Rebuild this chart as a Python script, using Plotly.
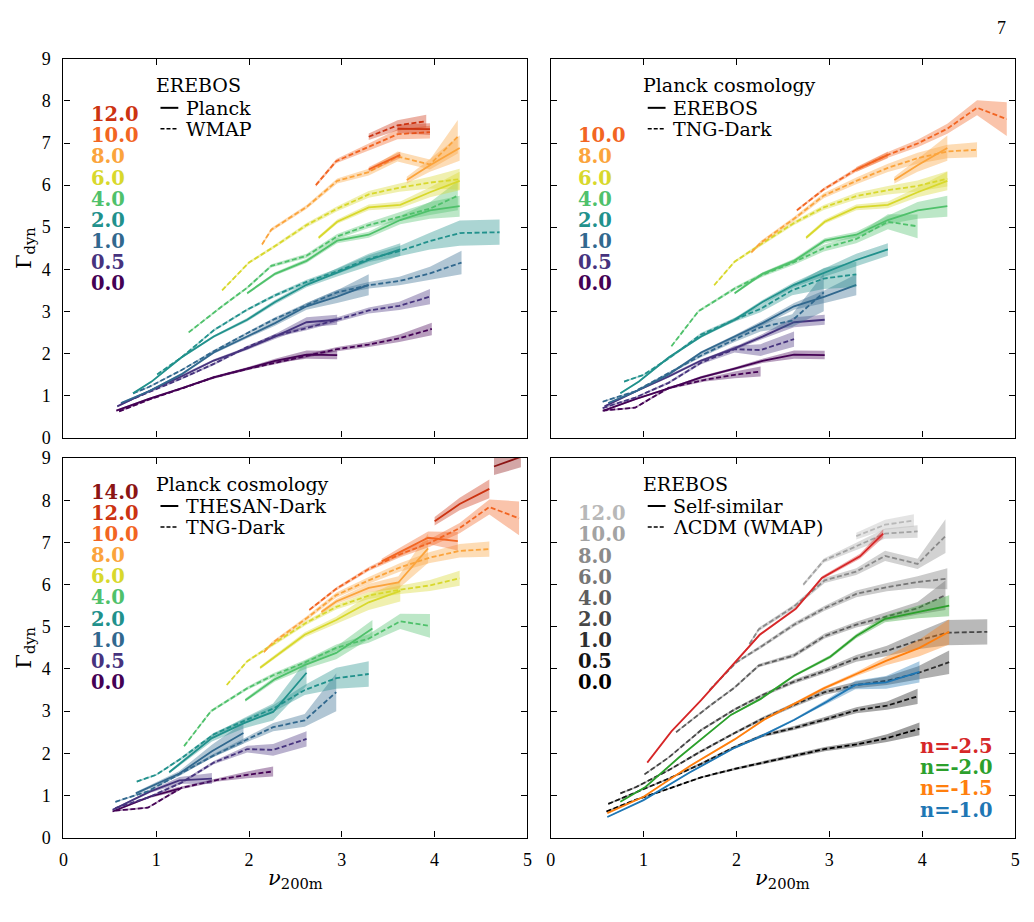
import plotly.graph_objects as go

W, H = 1034, 922

# ---------------- data (nu_200m, Gamma_dyn, half-width of band) ----------------
Z_COLORS = {"0.0": "#440154", "0.5": "#46337e", "1.0": "#31688e", "2.0": "#21918c",
            "4.0": "#4fc16b", "6.0": "#d8d82c", "8.0": "#fba43c", "10.0": "#f26522",
            "12.0": "#cc3311", "14.0": "#8b1414"}
Z_GRAYS = {"0.0": "#000000", "0.5": "#141414", "1.0": "#2e2e2e", "2.0": "#474747",
           "4.0": "#5e5e5e", "6.0": "#767676", "8.0": "#8a8a8a", "10.0": "#a3a3a3",
           "12.0": "#b8b8b8"}

# EREBOS, Planck cosmology (solid in top panels)
erebos_planck = {
    "0.0": ([0.57, 0.92, 1.27, 1.62, 1.98, 2.28, 2.62, 2.95],
            [0.64, 0.92, 1.17, 1.43, 1.64, 1.82, 1.97, 1.96],
            [0.02, 0.02, 0.02, 0.03, 0.03, 0.05, 0.10, 0.10]),
    "0.5": ([0.58, 0.92, 1.27, 1.62, 1.98, 2.28, 2.62, 2.95],
            [0.74, 1.10, 1.45, 1.83, 2.12, 2.40, 2.74, 2.80],
            [0.02, 0.02, 0.03, 0.03, 0.04, 0.06, 0.12, 0.12]),
    "1.0": ([0.62, 0.92, 1.27, 1.62, 1.98, 2.28, 2.62, 2.95, 3.29],
            [0.82, 1.10, 1.50, 2.02, 2.40, 2.72, 3.12, 3.35, 3.63],
            [0.02, 0.02, 0.03, 0.03, 0.04, 0.06, 0.08, 0.15, 0.25]),
    "2.0": ([0.75, 0.95, 1.27, 1.62, 1.98, 2.28, 2.62, 2.95, 3.29, 3.63],
            [1.05, 1.33, 1.90, 2.40, 2.80, 3.22, 3.63, 3.93, 4.22, 4.47],
            [0.02, 0.02, 0.03, 0.03, 0.04, 0.05, 0.06, 0.10, 0.15, 0.15]),
    "4.0": ([1.98, 2.28, 2.62, 2.95, 3.29, 3.63, 3.95, 4.27],
            [3.43, 3.89, 4.20, 4.68, 4.82, 5.17, 5.40, 5.50],
            [0.03, 0.04, 0.05, 0.06, 0.07, 0.10, 0.20, 0.25]),
    "6.0": ([2.75, 2.95, 3.29, 3.63, 3.95, 4.27],
            [4.75, 5.13, 5.47, 5.53, 5.83, 6.10],
            [0.04, 0.05, 0.07, 0.08, 0.12, 0.22]),
    "8.0": ([3.70, 3.95, 4.27],
            [6.12, 6.47, 6.88],
            [0.08, 0.15, 0.30]),
    "10.0": ([3.29, 3.63],
             [6.37, 6.72],
             [0.06, 0.08]),
    "12.0": ([3.60, 3.95],
             [7.34, 7.33],
             [0.10, 0.14]),
}

# EREBOS, WMAP cosmology (dashed in top-left and bottom-right)
erebos_wmap = {
    "0.0": ([0.60, 0.92, 1.27, 1.62, 1.98, 2.28, 2.62, 2.95, 3.29, 3.62, 3.97],
            [0.62, 0.90, 1.16, 1.43, 1.63, 1.78, 1.94, 2.10, 2.21, 2.36, 2.58],
            [0.02, 0.02, 0.02, 0.02, 0.03, 0.03, 0.04, 0.05, 0.06, 0.09, 0.15]),
    "0.5": ([0.62, 0.92, 1.27, 1.62, 1.98, 2.28, 2.62, 2.95, 3.29, 3.62, 3.95],
            [0.80, 1.08, 1.40, 1.75, 2.15, 2.42, 2.60, 2.80, 3.02, 3.13, 3.35],
            [0.02, 0.02, 0.02, 0.03, 0.03, 0.04, 0.05, 0.06, 0.07, 0.10, 0.18]),
    "1.0": ([0.75, 0.92, 1.27, 1.62, 1.98, 2.28, 2.62, 2.95, 3.29, 3.62, 3.95, 4.29],
            [1.05, 1.20, 1.60, 2.05, 2.48, 2.82, 3.15, 3.45, 3.62, 3.72, 3.90, 4.16],
            [0.02, 0.02, 0.02, 0.03, 0.03, 0.04, 0.05, 0.06, 0.08, 0.10, 0.16, 0.28]),
    "2.0": ([1.01, 1.27, 1.62, 1.98, 2.28, 2.62, 2.95, 3.29, 3.62, 3.95, 4.27, 4.70],
            [1.50, 1.90, 2.55, 3.04, 3.38, 3.70, 3.95, 4.25, 4.43, 4.67, 4.86, 4.88],
            [0.02, 0.02, 0.03, 0.03, 0.04, 0.05, 0.06, 0.08, 0.12, 0.20, 0.30, 0.30]),
    "4.0": ([1.35, 1.71, 1.98, 2.24, 2.62, 2.95, 3.29, 3.62, 3.95, 4.25],
            [2.50, 3.12, 3.56, 4.08, 4.32, 4.78, 5.05, 5.25, 5.44, 5.75],
            [0.02, 0.03, 0.03, 0.04, 0.05, 0.06, 0.07, 0.10, 0.15, 0.35]),
    "6.0": ([1.71, 2.00, 2.28, 2.62, 2.95, 3.29, 3.62, 3.95, 4.27],
            [3.50, 4.16, 4.55, 5.05, 5.44, 5.78, 5.94, 6.06, 6.14],
            [0.02, 0.03, 0.04, 0.05, 0.06, 0.08, 0.10, 0.14, 0.25]),
    "8.0": ([2.14, 2.24, 2.62, 2.95, 3.29, 3.60, 3.95, 4.25],
            [4.59, 4.94, 5.48, 6.10, 6.31, 6.68, 6.49, 7.15],
            [0.03, 0.04, 0.05, 0.06, 0.08, 0.12, 0.12, 0.40]),
    "10.0": ([2.72, 2.94, 3.29, 3.60, 3.95],
             [6.00, 6.57, 6.91, 7.21, 7.26],
             [0.04, 0.05, 0.08, 0.12, 0.15]),
    "12.0": ([3.29, 3.60, 3.91],
             [7.15, 7.42, 7.52],
             [0.08, 0.12, 0.15]),
}

# TNG-Dark, Planck cosmology (dashed in top-right and bottom-left)
tng_dark = {
    "0.0": ([0.56, 0.91, 1.27, 1.66, 1.98, 2.26],
            [0.64, 0.71, 1.18, 1.37, 1.49, 1.57],
            [0.02, 0.02, 0.03, 0.04, 0.08, 0.12]),
    "0.5": ([0.56, 0.91, 1.27, 1.62, 1.98, 2.26, 2.62],
            [0.70, 0.95, 1.30, 1.78, 2.10, 2.08, 2.34],
            [0.02, 0.02, 0.03, 0.04, 0.08, 0.14, 0.18]),
    "1.0": ([0.56, 0.91, 1.27, 1.62, 1.98, 2.26, 2.60, 2.94],
            [0.85, 1.10, 1.53, 1.95, 2.33, 2.62, 2.78, 3.45],
            [0.02, 0.02, 0.03, 0.04, 0.06, 0.10, 0.15, 0.45]),
    "2.0": ([0.79, 1.00, 1.27, 1.62, 1.98, 2.26, 2.60, 2.94, 3.29],
            [1.33, 1.49, 1.88, 2.45, 2.80, 3.06, 3.50, 3.78, 3.88],
            [0.02, 0.02, 0.03, 0.04, 0.05, 0.08, 0.12, 0.25, 0.30]),
    "4.0": ([1.30, 1.59, 1.98, 2.26, 2.62, 2.94, 3.29, 3.63, 3.95],
            [2.17, 3.00, 3.54, 3.85, 4.17, 4.50, 4.72, 5.13, 5.02],
            [0.02, 0.03, 0.04, 0.05, 0.06, 0.08, 0.10, 0.18, 0.28]),
    "6.0": ([1.76, 1.98, 2.26, 2.62, 2.94, 3.29, 3.63, 3.95, 4.27],
            [3.62, 4.18, 4.59, 5.10, 5.47, 5.74, 5.88, 5.98, 6.15],
            [0.02, 0.03, 0.04, 0.05, 0.06, 0.08, 0.10, 0.13, 0.18]),
    "8.0": ([2.16, 2.26, 2.62, 2.94, 3.29, 3.63, 3.95, 4.27, 4.59],
            [4.40, 4.63, 5.20, 5.75, 6.10, 6.41, 6.64, 6.80, 6.84],
            [0.03, 0.04, 0.05, 0.06, 0.08, 0.10, 0.13, 0.16, 0.18]),
    "10.0": ([2.65, 2.94, 3.29, 3.63, 3.95, 4.27, 4.59, 4.91],
             [5.40, 5.90, 6.37, 6.72, 6.99, 7.34, 7.84, 7.57],
             [0.03, 0.04, 0.05, 0.07, 0.09, 0.12, 0.18, 0.40]),
}

# THESAN-Dark, Planck cosmology (solid in bottom-left)
thesan_dark = {
    "0.0": ([0.53, 0.93, 1.25],
            [0.62, 0.97, 1.16],
            [0.02, 0.03, 0.05]),
    "0.5": ([0.53, 0.93, 1.25, 1.60],
            [0.66, 1.09, 1.36, 1.40],
            [0.02, 0.03, 0.08, 0.13]),
    "1.0": ([0.78, 1.25, 1.60, 1.94],
            [1.05, 1.52, 2.05, 2.48],
            [0.03, 0.06, 0.15, 0.25]),
    "2.0": ([1.14, 1.60, 1.94, 2.26, 2.62],
            [1.55, 2.36, 2.71, 2.98, 3.91],
            [0.03, 0.08, 0.12, 0.20, 0.30]),
    "4.0": ([1.96, 2.28, 2.62, 2.94, 3.33],
            [3.26, 3.76, 4.11, 4.38, 4.96],
            [0.04, 0.06, 0.10, 0.15, 0.20]),
    "6.0": ([2.12, 2.60, 2.94, 3.29, 3.63],
            [4.03, 4.81, 5.16, 5.58, 5.85],
            [0.04, 0.06, 0.08, 0.18, 0.25]),
    "8.0": ([2.78, 2.94, 3.29, 3.61, 3.93],
            [5.35, 5.60, 5.92, 6.05, 6.86],
            [0.05, 0.06, 0.10, 0.15, 0.35]),
    "10.0": ([3.43, 3.63, 3.93, 4.25],
             [6.55, 6.78, 7.11, 7.03],
             [0.06, 0.10, 0.15, 0.22]),
    "12.0": ([4.00, 4.27, 4.59],
             [7.50, 7.91, 8.27],
             [0.10, 0.15, 0.22]),
    "14.0": ([4.64, 4.93],
             [8.80, 9.03],
             [0.20, 0.25]),
}

# EREBOS self-similar runs (solid in bottom-right)
N_LABELS = ["n=-2.5", "n=-2.0", "n=-1.5", "n=-1.0"]
N_COLORS = {"n=-2.5": "#d62728", "n=-2.0": "#2ca02c", "n=-1.5": "#ff7f0e", "n=-1.0": "#1f77b4"}
self_similar = {
    "n=-2.5": ([1.04, 1.30, 1.62, 1.98, 2.25, 2.64, 2.92, 3.33, 3.58],
               [1.78, 2.52, 3.26, 4.15, 4.81, 5.43, 6.16, 6.67, 7.21],
               [0.01, 0.01, 0.02, 0.02, 0.03, 0.03, 0.04, 0.06, 0.10]),
    "n=-2.0": ([0.75, 1.02, 1.38, 1.94, 2.26, 2.62, 3.01, 3.29, 3.60, 3.95, 4.29],
               [0.85, 1.20, 1.90, 2.91, 3.29, 3.84, 4.29, 4.78, 5.19, 5.35, 5.50],
               [0.01, 0.01, 0.02, 0.02, 0.03, 0.03, 0.04, 0.05, 0.08, 0.15, 0.25]),
    "n=-1.5": ([0.61, 1.00, 1.50, 1.98, 2.30, 2.62, 2.94, 3.29, 3.61, 3.97, 4.29],
               [0.58, 0.97, 1.70, 2.33, 2.80, 3.18, 3.54, 3.88, 4.19, 4.50, 4.88],
               [0.01, 0.01, 0.02, 0.02, 0.03, 0.03, 0.04, 0.05, 0.10, 0.20, 0.30]),
    "n=-1.0": ([0.61, 1.00, 1.50, 1.98, 2.26, 2.62, 2.97, 3.28, 3.61, 3.97],
               [0.49, 0.89, 1.55, 2.13, 2.40, 2.79, 3.22, 3.62, 3.68, 3.93],
               [0.01, 0.01, 0.02, 0.02, 0.03, 0.03, 0.05, 0.10, 0.15, 0.25]),
}

X_TICKS = [0, 1, 2, 3, 4, 5]
Y_TICKS = [0, 1, 2, 3, 4, 5, 6, 7, 8, 9]

tl_labels = ["12.0", "10.0", "8.0", "6.0", "4.0", "2.0", "1.0", "0.5", "0.0"]
tr_labels = ["10.0", "8.0", "6.0", "4.0", "2.0", "1.0", "0.5", "0.0"]
bl_labels = ["14.0", "12.0", "10.0", "8.0", "6.0", "4.0", "2.0", "1.0", "0.5", "0.0"]
br_labels = ["12.0", "10.0", "8.0", "6.0", "4.0", "2.0", "1.0", "0.5", "0.0"]

# ---------------- layout geometry (pixels) ----------------
COLS = [(59, 527.5), (551, 1020)]
ROWS = [(50, 437), (458, 846)]


def px(x):
    return x / W


def py(y):
    return 1 - y / H


def hex_rgba(h, a):
    h = h.lstrip("#")
    r, g, b = int(h[0:2], 16), int(h[2:4], 16), int(h[4:6], 16)
    return f"rgba({r},{g},{b},{a})"


fig = go.Figure()

panel_axes = {}
k = 0
for ri, (yt, yb) in enumerate(ROWS):
    for ci, (xl, xr) in enumerate(COLS):
        k += 1
        xa = "xaxis" if k == 1 else f"xaxis{k}"
        ya = "yaxis" if k == 1 else f"yaxis{k}"
        xref = "x" if k == 1 else f"x{k}"
        yref = "y" if k == 1 else f"y{k}"
        panel_axes[(ri, ci)] = (xref, yref)
        common = dict(ticks="inside", ticklen=6, tickwidth=1, tickcolor="black",
                      showline=True, linecolor="black", linewidth=1.3, mirror="ticks",
                      showgrid=False, zeroline=False,
                      tickfont=dict(family="Liberation Serif", size=18, color="black"))
        fig.update_layout({
            xa: dict(domain=[px(xl), px(xr)], range=[0, 5], tickvals=X_TICKS,
                     showticklabels=(ri == 1), anchor=yref, ticklabelstandoff=6, **common),
            ya: dict(domain=[py(yb), py(yt)], range=[0, 9], tickvals=Y_TICKS,
                     showticklabels=(ci == 0), anchor=xref, ticklabelstandoff=8, **common),
        })

DASH = "5px,2.5px"


def add_series(panel, x, y, e, color, dash):
    xref, yref = panel_axes[panel]
    bx = list(x) + list(x)[::-1]
    by = [a + b for a, b in zip(y, e)] + [a - b for a, b in zip(y, e)][::-1]
    fig.add_trace(go.Scatter(x=bx, y=by, fill="toself", fillcolor=hex_rgba(color, 0.38),
                             line=dict(width=0), mode="lines", hoverinfo="skip",
                             showlegend=False, xaxis=xref, yaxis=yref))
    fig.add_trace(go.Scatter(x=x, y=y, mode="lines",
                             line=dict(color=color, width=1.8, dash=dash),
                             showlegend=False, xaxis=xref, yaxis=yref))


# top-left: EREBOS Planck (solid) vs WMAP (dashed)
for z in tl_labels[::-1]:
    if z in erebos_wmap:
        add_series((0, 0), *erebos_wmap[z], Z_COLORS[z], DASH)
    if z in erebos_planck:
        add_series((0, 0), *erebos_planck[z], Z_COLORS[z], "solid")

# top-right: EREBOS (solid) vs TNG-Dark (dashed)
for z in tr_labels[::-1]:
    if z in tng_dark:
        add_series((0, 1), *tng_dark[z], Z_COLORS[z], DASH)
    if z in erebos_planck:
        add_series((0, 1), *erebos_planck[z], Z_COLORS[z], "solid")

# bottom-left: THESAN-Dark (solid) vs TNG-Dark (dashed)
for z in bl_labels[::-1]:
    if z in tng_dark:
        add_series((1, 0), *tng_dark[z], Z_COLORS[z], DASH)
    if z in thesan_dark:
        add_series((1, 0), *thesan_dark[z], Z_COLORS[z], "solid")

# bottom-right: self-similar (solid) vs LCDM WMAP (dashed, grays)
for z in br_labels[::-1]:
    if z in erebos_wmap:
        add_series((1, 1), *erebos_wmap[z], Z_GRAYS[z], DASH)
for n in N_LABELS:
    add_series((1, 1), *self_similar[n], N_COLORS[n], "solid")

# ---------------- text ----------------
ann = []
shapes = []
SERIF = "DejaVu Serif"


def label_stack(x0, y_first, labels, colors):
    for i, lab in enumerate(labels):
        ann.append(dict(x=px(x0), y=py(y_first + 21.6 * i), xref="paper", yref="paper",
                        text=f"<b>{lab}</b>", showarrow=False, xanchor="left", yanchor="middle",
                        font=dict(family=SERIF, size=19.5, color=colors[lab])))


def legend_block(x_title, y_title, title, solid_lab, dash_lab):
    ann.append(dict(x=px(x_title), y=py(y_title), xref="paper", yref="paper", text=title,
                    showarrow=False, xanchor="left", yanchor="middle",
                    font=dict(family=SERIF, size=19, color="black")))
    for j, (lab, dsh) in enumerate([(solid_lab, "solid"), (dash_lab, "4px,2px")]):
        yy = y_title + 23 + 21.5 * j
        shapes.append(dict(type="line", xref="paper", yref="paper",
                           x0=px(x_title + 7), x1=px(x_title + 25), y0=py(yy), y1=py(yy),
                           line=dict(color="black", width=2 if dsh == "solid" else 1.5, dash=dsh)))
        ann.append(dict(x=px(x_title + 31), y=py(yy), xref="paper", yref="paper", text=lab,
                        showarrow=False, xanchor="left", yanchor="middle",
                        font=dict(family=SERIF, size=19, color="black")))


label_stack(85, 107, tl_labels, Z_COLORS)
label_stack(577, 128.6, tr_labels, Z_COLORS)
label_stack(85, 493, bl_labels, Z_COLORS)
label_stack(577, 515, br_labels, Z_GRAYS)

legend_block(150, 77, "EREBOS", "Planck", "WMAP")
legend_block(642, 77, "Planck cosmology", "EREBOS", "TNG-Dark")
legend_block(150, 484, "Planck cosmology", "THESAN-Dark", "TNG-Dark")
legend_block(642, 484, "EREBOS", "Self-similar", "ΛCDM (WMAP)")

for i, n in enumerate(N_LABELS):
    ann.append(dict(x=px(1000), y=py(753 + 21.6 * i), xref="paper", yref="paper",
                    text=f"<b>{n}</b>", showarrow=False, xanchor="right", yanchor="middle",
                    font=dict(family=SERIF, size=19.5, color=N_COLORS[n])))

# axis titles
for yc in [243.5, 652]:
    ann.append(dict(x=px(20), y=py(yc), xref="paper", yref="paper",
                    text="Γ<sub>dyn</sub>", textangle=-90, showarrow=False,
                    xanchor="center", yanchor="middle",
                    font=dict(family="DejaVu Serif", size=21, color="black")))
for xc in [293, 785]:
    ann.append(dict(x=px(xc), y=py(888), xref="paper", yref="paper",
                    text="<i>ν</i><sub>200m</sub>", showarrow=False,
                    xanchor="center", yanchor="middle",
                    font=dict(family="DejaVu Serif", size=21, color="black")))

# page number
ann.append(dict(x=px(1013), y=py(18), xref="paper", yref="paper", text="7", showarrow=False,
                xanchor="right", yanchor="middle",
                font=dict(family="Liberation Serif", size=18, color="black")))

fig.update_layout(width=W, height=H, margin=dict(l=0, r=0, t=0, b=0),
                  paper_bgcolor="white", plot_bgcolor="white",
                  annotations=ann, shapes=shapes, showlegend=False)

fig.write_html("out.html")
